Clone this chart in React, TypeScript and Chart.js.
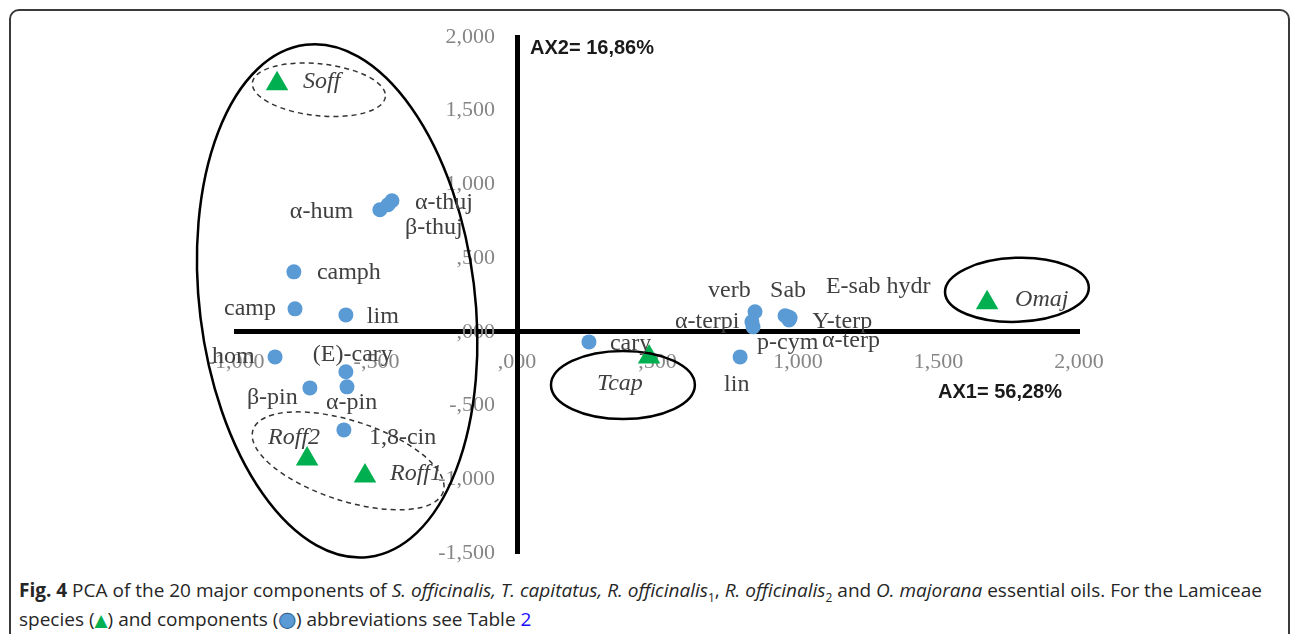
import React, { useEffect, useRef } from "react";
import { Chart, registerables } from "chart.js";

Chart.register(...registerables);

// ---- data ----
const componentNames = [
  "α-thuj", "α-hum", "β-thuj", "camph", "camp", "lim", "hom", "(E)-cary", "α-pin", "β-pin",
  "1,8-cin", "cary", "verb", "α-terpi", "p-cym", "Sab", "E-sab hydr", "Υ-terp", "α-terp", "lin",
];
const componentX = [
  -0.445, -0.488, -0.459, -0.794, -0.79, -0.609, -0.861, -0.609, -0.605, -0.737,
  -0.616, 0.256, 0.847, 0.836, 0.84, 0.954, 0.964, 0.972, 0.968, 0.794,
];
const componentY = [
  0.889, 0.828, 0.862, 0.407, 0.156, 0.115, -0.17, -0.271, -0.373, -0.38,
  -0.665, -0.068, 0.136, 0.068, 0.034, 0.109, 0.102, 0.095, 0.081, -0.17,
];
const speciesNames = ["Soff", "Roff2", "Roff1", "Tcap", "Omaj"];
const speciesX = [-0.854, -0.747, -0.541, 0.47, 1.673];
const speciesY = [1.683, -0.862, -0.977, -0.17, 0.197];

const xTickValues = [-1, -0.5, 0, 0.5, 1, 1.5, 2];
const xTickLabels = ["-1,000", "-,500", ",000", ",500", "1,000", "1,500", "2,000"];
const yTickValues = [-1.5, -1, -0.5, 0, 0.5, 1, 1.5, 2];
const yTickLabels = ["-1,500", "-1,000", "-,500", ",000", ",500", "1,000", "1,500", "2,000"];
const axisTitleX = "AX1= 56,28%";
const axisTitleY = "AX2= 16,86%";

// ---- label placement (pixel offsets from each mark) ----
const componentLabelOffsets: [number, number][] = [
  [23, 2], [-90, 2], [17, 23], [23, 1], [-71, 0], [21, 2], [-63, 0], [-33, -17], [-21, 16], [-63, 10],
  [25, 8], [21, 2], [-47, -21], [-77, 0], [4, 16], [-15, -25], [38, -30], [22, 4], [33, 21], [-16, 28],
];
const speciesLabelOffsets: [number, number][] = [[26, -2], [-39, -21], [25, -2], [-52, 27], [28, -3]];

// group ellipses: centre in data units, radii in data units, rotation in degrees
const groupEllipses = [
  { cx: -0.64, cy: 0.21, rx: 0.49, ry: 1.75, rot: -7, dashed: false },
  { cx: -0.705, cy: 1.642, rx: 0.238, ry: 0.176, rot: 6, dashed: true },
  { cx: -0.601, cy: -0.875, rx: 0.356, ry: 0.271, rot: 18, dashed: true },
  { cx: 0.377, cy: -0.36, rx: 0.256, ry: 0.231, rot: 0, dashed: false },
  { cx: 1.779, cy: 0.285, rx: 0.256, ry: 0.217, rot: -2, dashed: false },
];

const BLUE = "#5B9BD5";
const GREEN = "#00B050";
const LABEL_COLOR = "#404040";
const TICK_COLOR = "#858585";
const SERIF = "'Liberation Serif', 'DejaVu Serif', serif";
const SANS = "'Liberation Sans', Arial, sans-serif";

const overlayPlugin = {
  id: "pcaOverlay",
  afterDatasetsDraw(chart: any) {
    const ctx = chart.ctx;
    const xs = chart.scales.x;
    const ys = chart.scales.y;
    const pxPerX = Math.abs(xs.getPixelForValue(1) - xs.getPixelForValue(0));
    const pxPerY = Math.abs(ys.getPixelForValue(0) - ys.getPixelForValue(1));

    // ellipses
    groupEllipses.forEach((e) => {
      ctx.save();
      ctx.beginPath();
      ctx.ellipse(
        xs.getPixelForValue(e.cx),
        ys.getPixelForValue(e.cy),
        e.rx * pxPerX,
        e.ry * pxPerY,
        (e.rot * Math.PI) / 180,
        0,
        Math.PI * 2
      );
      ctx.strokeStyle = e.dashed ? "#333333" : "#000000";
      ctx.lineWidth = e.dashed ? 1.5 : 2.5;
      if (e.dashed) ctx.setLineDash([5, 4]);
      ctx.stroke();
      ctx.restore();
    });

    // point labels
    ctx.save();
    ctx.textBaseline = "middle";
    ctx.textAlign = "left";
    ctx.fillStyle = LABEL_COLOR;
    const compMeta = chart.getDatasetMeta(0);
    ctx.font = `24px ${SERIF}`;
    compMeta.data.forEach((pt: any, i: number) => {
      const [dx, dy] = componentLabelOffsets[i];
      ctx.fillText(componentNames[i], pt.x + dx, pt.y + dy);
    });
    const spMeta = chart.getDatasetMeta(1);
    ctx.font = `italic 24px ${SERIF}`;
    spMeta.data.forEach((pt: any, i: number) => {
      const [dx, dy] = speciesLabelOffsets[i];
      ctx.fillText(speciesNames[i], pt.x + dx, pt.y + dy);
    });

    // axis titles
    ctx.fillStyle = "#1a1a1a";
    ctx.font = `bold 20px ${SANS}`;
    ctx.textAlign = "left";
    ctx.fillText(axisTitleY, xs.getPixelForValue(0) + 13, chart.chartArea.top + 11);
    ctx.textAlign = "right";
    ctx.fillText(axisTitleX, chart.chartArea.right - 17, ys.getPixelForValue(0) + 61);
    ctx.restore();
  },
};

export default function App() {
  const canvasRef = useRef<HTMLCanvasElement | null>(null);

  useEffect(() => {
    const canvas = canvasRef.current;
    if (!canvas) return;
    const zeroW = (s: any) => {
      s.width = 0;
    };
    const zeroH = (s: any) => {
      s.height = 0;
    };
    const chart = new Chart(canvas, {
      type: "scatter",
      data: {
        datasets: [
          {
            label: "components",
            data: componentX.map((x, i) => ({ x, y: componentY[i] })),
            backgroundColor: BLUE,
            borderColor: BLUE,
            pointStyle: "circle",
            pointRadius: 7.5,
            pointBorderWidth: 0,
          },
          {
            label: "species",
            data: speciesX.map((x, i) => ({ x, y: speciesY[i] })),
            backgroundColor: GREEN,
            borderColor: GREEN,
            pointStyle: "triangle",
            pointRadius: 13,
            pointBorderWidth: 0,
          },
        ],
      },
      options: {
        animation: false,
        responsive: false,
        maintainAspectRatio: false,
        layout: { padding: { left: 236, right: 211, top: 37, bottom: 17 } },
        plugins: { legend: { display: false }, tooltip: { enabled: false }, title: { display: false } },
        scales: {
          x: {
            type: "linear",
            position: { y: 0 } as any,
            min: -1,
            max: 2,
            afterFit: zeroH,
            afterBuildTicks: (s: any) => {
              s.ticks = xTickValues.map((v) => ({ value: v }));
            },
            grid: { display: false, drawTicks: false },
            border: { display: true, color: "#000000", width: 5 },
            ticks: {
              padding: 17,
              color: TICK_COLOR,
              font: { family: SERIF, size: 22 },
              maxRotation: 0,
              autoSkip: false,
              callback: (v: any) => xTickLabels[xTickValues.indexOf(Number(v))] ?? "",
            },
          },
          y: {
            type: "linear",
            position: { x: -0.078 } as any,
            min: -1.5,
            max: 2,
            afterFit: zeroW,
            afterBuildTicks: (s: any) => {
              s.ticks = yTickValues.map((v) => ({ value: v }));
            },
            grid: { display: false, drawTicks: false },
            border: { display: false },
            ticks: {
              padding: 0,
              color: TICK_COLOR,
              font: { family: SERIF, size: 22 },
              autoSkip: false,
              callback: (v: any) => yTickLabels[yTickValues.indexOf(Number(v))] ?? "",
            },
          },
          yLine: {
            type: "linear",
            axis: "y",
            position: { x: 0 } as any,
            min: -1.5,
            max: 2,
            afterFit: zeroW,
            grid: { display: false, drawTicks: false },
            border: { display: true, color: "#000000", width: 5 },
            ticks: { display: false },
          },
        } as any,
      },
      plugins: [overlayPlugin],
    });
    return () => chart.destroy();
  }, []);

  return (
    <div
      style={{
        position: "fixed",
        left: 0,
        top: 0,
        width: 1290,
        height: 634,
        overflow: "hidden",
        background: "#ffffff",
      }}
    >
      <div
        style={{
          position: "absolute",
          left: 9,
          top: 9,
          width: 1281,
          height: 720,
          boxSizing: "border-box",
          border: "2px solid #3a3a3a",
          borderRadius: 10,
        }}
      />
      <canvas
        ref={canvasRef}
        width={1290}
        height={570}
        style={{ position: "absolute", left: 0, top: 0, width: 1290, height: 570 }}
      />
      <div
        style={{
          position: "absolute",
          left: 19,
          top: 576,
          fontFamily: "'Open Sans', 'Noto Sans', sans-serif",
          fontSize: 19,
          lineHeight: "29px",
          color: "#262626",
          whiteSpace: "nowrap",
        }}
      >
        <b>Fig. 4</b> PCA of the 20 major components of <i>S. officinalis, T. capitatus, R. officinalis</i>
        <sub style={{ fontSize: 12, lineHeight: 0 }}>1</sub>, <i>R. officinalis</i>
        <sub style={{ fontSize: 12, lineHeight: 0 }}>2</sub> and <i>O. majorana</i> essential oils. For the Lamiceae
        <br />
        species (<span style={{ color: GREEN, fontSize: 17, fontFamily: "'DejaVu Sans', sans-serif" }}>▲</span>) and
        components (<span style={{ color: BLUE, fontSize: 20, fontFamily: "'DejaVu Sans', sans-serif", WebkitTextStroke: "1px #2e5f8e" }}>●</span>) abbreviations see Table{" "}
        <span style={{ color: "#1a0dff" }}>2</span>
      </div>
    </div>
  );
}
